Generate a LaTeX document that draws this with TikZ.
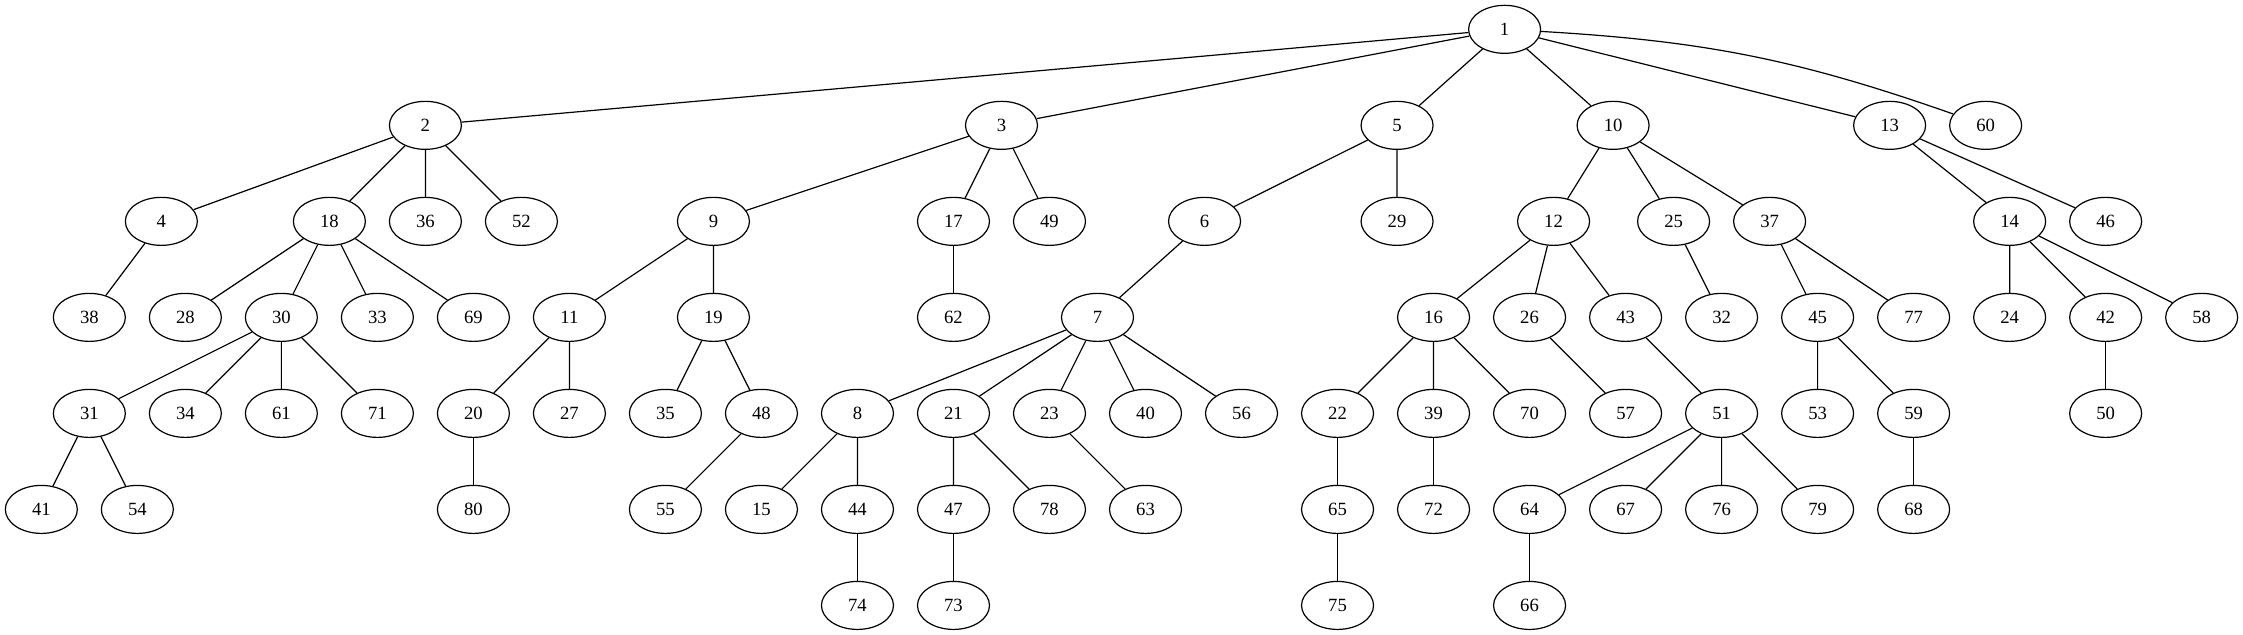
\documentclass[tikz,border=0pt]{standalone}
\usepackage{fontspec}
\setmainfont{Liberation Serif}
\usetikzlibrary{shapes.geometric}

\begin{document}
\begin{tikzpicture}[x=36pt, y=72pt, line width=0.9pt,
    vtx/.style={draw, ellipse, minimum width=54pt, minimum height=36pt, inner sep=0pt,
                font=\fontsize{14pt}{16pt}\selectfont}]
      \useasboundingbox (-0.8611,-0.3056) rectangle (45.8611,6.3056);
      % row 0
      \node[vtx] at (30.48, 6) (n1)  {1};
      % row 1
      \node[vtx] at (8, 5)     (n2)  {2};
      \node[vtx] at (20, 5)    (n3)  {3};
      \node[vtx] at (28.24, 5) (n5)  {5};
      \node[vtx] at (32.74, 5) (n10) {10};
      \node[vtx] at (38.5, 5)  (n13) {13};
      \node[vtx] at (40.5, 5)  (n60) {60};
      % row 2
      \node[vtx] at (2.5, 4)   (n4)  {4};
      \node[vtx] at (6, 4)     (n18) {18};
      \node[vtx] at (8, 4)     (n36) {36};
      \node[vtx] at (10, 4)    (n52) {52};
      \node[vtx] at (14, 4)    (n9)  {9};
      \node[vtx] at (19, 4)    (n17) {17};
      \node[vtx] at (21, 4)    (n49) {49};
      \node[vtx] at (24.23, 4) (n6)  {6};
      \node[vtx] at (28.24, 4) (n29) {29};
      \node[vtx] at (31.5, 4)  (n12) {12};
      \node[vtx] at (34, 4)    (n25) {25};
      \node[vtx] at (36, 4)    (n37) {37};
      \node[vtx] at (41, 4)    (n14) {14};
      \node[vtx] at (43, 4)    (n46) {46};
      % row 3
      \node[vtx] at (1, 3)     (n38) {38};
      \node[vtx] at (3, 3)     (n28) {28};
      \node[vtx] at (5, 3)     (n30) {30};
      \node[vtx] at (7, 3)     (n33) {33};
      \node[vtx] at (9, 3)     (n69) {69};
      \node[vtx] at (11, 3)    (n11) {11};
      \node[vtx] at (14, 3)    (n19) {19};
      \node[vtx] at (19, 3)    (n62) {62};
      \node[vtx] at (22, 3)    (n7)  {7};
      \node[vtx] at (29, 3)    (n16) {16};
      \node[vtx] at (31, 3)    (n26) {26};
      \node[vtx] at (33, 3)    (n43) {43};
      \node[vtx] at (35, 3)    (n32) {32};
      \node[vtx] at (37, 3)    (n45) {45};
      \node[vtx] at (39, 3)    (n77) {77};
      \node[vtx] at (41, 3)    (n24) {24};
      \node[vtx] at (43, 3)    (n42) {42};
      \node[vtx] at (45, 3)    (n58) {58};
      % row 4
      \node[vtx] at (1, 2)     (n31) {31};
      \node[vtx] at (3, 2)     (n34) {34};
      \node[vtx] at (5, 2)     (n61) {61};
      \node[vtx] at (7, 2)     (n71) {71};
      \node[vtx] at (9, 2)     (n20) {20};
      \node[vtx] at (11, 2)    (n27) {27};
      \node[vtx] at (13, 2)    (n35) {35};
      \node[vtx] at (15, 2)    (n48) {48};
      \node[vtx] at (17, 2)    (n8)  {8};
      \node[vtx] at (19, 2)    (n21) {21};
      \node[vtx] at (21, 2)    (n23) {23};
      \node[vtx] at (23, 2)    (n40) {40};
      \node[vtx] at (25, 2)    (n56) {56};
      \node[vtx] at (27, 2)    (n22) {22};
      \node[vtx] at (29, 2)    (n39) {39};
      \node[vtx] at (31, 2)    (n70) {70};
      \node[vtx] at (33, 2)    (n57) {57};
      \node[vtx] at (35, 2)    (n51) {51};
      \node[vtx] at (37, 2)    (n53) {53};
      \node[vtx] at (39, 2)    (n59) {59};
      \node[vtx] at (43, 2)    (n50) {50};
      % row 5
      \node[vtx] at (0, 1)     (n41) {41};
      \node[vtx] at (2, 1)     (n54) {54};
      \node[vtx] at (9, 1)     (n80) {80};
      \node[vtx] at (13, 1)    (n55) {55};
      \node[vtx] at (15, 1)    (n15) {15};
      \node[vtx] at (17, 1)    (n44) {44};
      \node[vtx] at (19, 1)    (n47) {47};
      \node[vtx] at (21, 1)    (n78) {78};
      \node[vtx] at (23, 1)    (n63) {63};
      \node[vtx] at (27, 1)    (n65) {65};
      \node[vtx] at (29, 1)    (n72) {72};
      \node[vtx] at (31, 1)    (n64) {64};
      \node[vtx] at (33, 1)    (n67) {67};
      \node[vtx] at (35, 1)    (n76) {76};
      \node[vtx] at (37, 1)    (n79) {79};
      \node[vtx] at (39, 1)    (n68) {68};
      % row 6
      \node[vtx] at (17, 0)    (n74) {74};
      \node[vtx] at (19, 0)    (n73) {73};
      \node[vtx] at (27, 0)    (n75) {75};
      \node[vtx] at (31, 0)    (n66) {66};
      % edges
      \path[draw] (n1) -- (n2) (n1) -- (n3) (n1) -- (n5) (n1) -- (n10) (n1) -- (n13);
      \path[draw] (n1) to[bend left=8] (n60);
      \path[draw] (n2) -- (n4) (n2) -- (n18) (n2) -- (n36) (n2) -- (n52);
      \path[draw] (n3) -- (n9) (n3) -- (n17) (n3) -- (n49);
      \path[draw] (n5) -- (n6) (n5) -- (n29);
      \path[draw] (n10) -- (n12) (n10) -- (n25) (n10) -- (n37);
      \path[draw] (n13) -- (n14) (n13) -- (n46);
      \path[draw] (n4) -- (n38);
      \path[draw] (n18) -- (n28) (n18) -- (n30) (n18) -- (n33) (n18) -- (n69);
      \path[draw] (n9) -- (n11) (n9) -- (n19);
      \path[draw] (n17) -- (n62);
      \path[draw] (n6) -- (n7);
      \path[draw] (n12) -- (n16) (n12) -- (n26) (n12) -- (n43);
      \path[draw] (n25) -- (n32);
      \path[draw] (n37) -- (n45) (n37) -- (n77);
      \path[draw] (n14) -- (n24) (n14) -- (n42) (n14) -- (n58);
      \path[draw] (n30) -- (n31) (n30) -- (n34) (n30) -- (n61) (n30) -- (n71);
      \path[draw] (n11) -- (n20) (n11) -- (n27);
      \path[draw] (n19) -- (n35) (n19) -- (n48);
      \path[draw] (n7) -- (n8) (n7) -- (n21) (n7) -- (n23) (n7) -- (n40) (n7) -- (n56);
      \path[draw] (n16) -- (n22) (n16) -- (n39) (n16) -- (n70);
      \path[draw] (n26) -- (n57);
      \path[draw] (n43) -- (n51);
      \path[draw] (n45) -- (n53) (n45) -- (n59);
      \path[draw] (n42) -- (n50);
      \path[draw] (n31) -- (n41) (n31) -- (n54);
      \path[draw] (n20) -- (n80);
      \path[draw] (n48) -- (n55);
      \path[draw] (n8) -- (n15) (n8) -- (n44);
      \path[draw] (n21) -- (n47) (n21) -- (n78);
      \path[draw] (n23) -- (n63);
      \path[draw] (n22) -- (n65);
      \path[draw] (n39) -- (n72);
      \path[draw] (n51) -- (n64) (n51) -- (n67) (n51) -- (n76) (n51) -- (n79);
      \path[draw] (n59) -- (n68);
      \path[draw] (n44) -- (n74);
      \path[draw] (n47) -- (n73);
      \path[draw] (n65) -- (n75);
      \path[draw] (n64) -- (n66);
    \end{tikzpicture}
\end{document}
